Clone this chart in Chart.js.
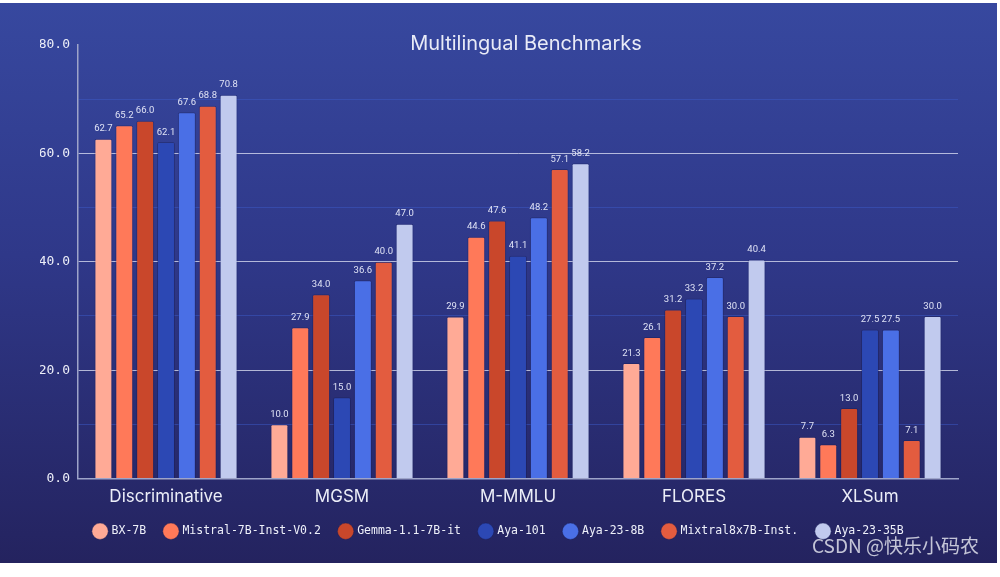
<!DOCTYPE html>
<html>
<head>
<meta charset="utf-8">
<script src="https://cdn.jsdelivr.net/npm/chart.js@4.4.1/dist/chart.umd.min.js"></script>
<style>
  html, body { margin: 0; padding: 0; background: #fff; }
  #wrap {
    position: absolute; left: 0; top: 3px; width: 997px; height: 560px;
    background: linear-gradient(180deg, #37489f 0%, #2f3889 45%, #24235f 100%);
    overflow: hidden;
  }
  #chart { position: absolute; left: 0; top: 0; }
  #mark {
    position: absolute; left: 812px; top: 531px;
    font-family: "Noto Sans CJK SC", sans-serif; font-size: 19px; line-height: 22px;
    color: rgba(225, 226, 236, 0.85); white-space: nowrap;
  }
</style>
</head>
<body>
<div id="wrap">
  <canvas id="chart" width="997" height="560"></canvas>
  <div id="mark">CSDN @快乐小码农</div>
</div>
<script>
// данные с картинки
const categories = ['Discriminative', 'MGSM', 'M-MMLU', 'FLORES', 'XLSum'];
const models = ['BX-7B', 'Mistral-7B-Inst-V0.2', 'Gemma-1.1-7B-it', 'Aya-101', 'Aya-23-8B', 'Mixtral8x7B-Inst.', 'Aya-23-35B'];
const colors = ['#ffaa96', '#ff7959', '#c9472b', '#2c48b4', '#4a6fe6', '#e35c3f', '#c1caee'];

const bx7b      = [62.7, 10.0, 29.9, 21.3, 7.7];
const mistral   = [65.2, 27.9, 44.6, 26.1, 6.3];
const gemma     = [66.0, 34.0, 47.6, 31.2, 13.0];
const aya101    = [62.1, 15.0, 41.1, 33.2, 27.5];
const aya23_8b  = [67.6, 36.6, 48.2, 37.2, 27.5];
const mixtral   = [68.8, 40.0, 57.1, 30.0, 7.1];
const aya23_35b = [70.8, 47.0, 58.2, 40.4, 30.0];
const series = [bx7b, mistral, gemma, aya101, aya23_8b, mixtral, aya23_35b];

const yTicks = [0, 20, 40, 60, 80];

const MONO = '"DejaVu Sans Mono", monospace';
const SANS = 'Inter, "Open Sans", sans-serif';

// подписи значений над столбцами + заголовок
const valueLabels = {
  id: 'valueLabels',
  afterDatasetsDraw(chart) {
    const ctx = chart.ctx;
    ctx.save();
    ctx.font = '9.5px Roboto, sans-serif';
    ctx.fillStyle = '#dfe2f5';
    ctx.textAlign = 'center';
    ctx.textBaseline = 'bottom';
    chart.data.datasets.forEach((ds, i) => {
      chart.getDatasetMeta(i).data.forEach((bar, j) => {
        ctx.fillText(ds.data[j].toFixed(1), bar.x, bar.y - 5);
      });
    });
    ctx.font = '20px ' + SANS;
    ctx.fillStyle = '#e9ebf7';
    ctx.textBaseline = 'middle';
    ctx.fillText('Multilingual Benchmarks', 526, 41);
    ctx.restore();
  },
};

new Chart(document.getElementById('chart'), {
  type: 'bar',
  data: {
    labels: categories,
    datasets: models.map((m, i) => ({
      label: m,
      data: series[i],
      backgroundColor: colors[i],
      borderColor: 'rgba(20,25,80,0.35)',
      borderWidth: 1,
      borderRadius: 2,
      categoryPercentage: 0.83,
      barPercentage: 0.86,
    })),
  },
  options: {
    responsive: false,
    animation: false,
    layout: { padding: { top: 42, right: 39, bottom: 16, left: 40 } },
    plugins: {
      tooltip: { enabled: false },
      legend: {
        position: 'bottom',
        labels: {
          usePointStyle: true, pointStyle: 'circle', boxWidth: 13, boxHeight: 13,
          padding: 19, color: '#eef0fa', font: { family: MONO, size: 11.5 },
        },
      },
    },
    scales: {
      x: {
        grid: { display: false },
        border: { color: '#9ea4c9', width: 1.5 },
        ticks: { color: '#eceef8', font: { family: SANS, size: 17 }, padding: 0 },
        afterFit(s) { s.height = 28; },
      },
      y: {
        min: 0, max: 80,
        ticks: {
          stepSize: 10, padding: 8, color: '#eceef8', font: { family: MONO, size: 13 },
          callback: v => yTicks.includes(v) ? v.toFixed(1) : '',
        },
        grid: {
          drawTicks: false,
          color: c => {
            const v = c.tick.value;
            if (v === 0 || v === 80) return 'rgba(0,0,0,0)';
            return v % 20 === 0 ? 'rgba(225,228,245,0.75)' : 'rgba(60,90,200,0.5)';
          },
        },
        border: { color: '#9ea4c9', width: 1.5 },
        afterFit(s) { s.width = 38; },
      },
    },
  },
  plugins: [valueLabels],
});
</script>
</body>
</html>
